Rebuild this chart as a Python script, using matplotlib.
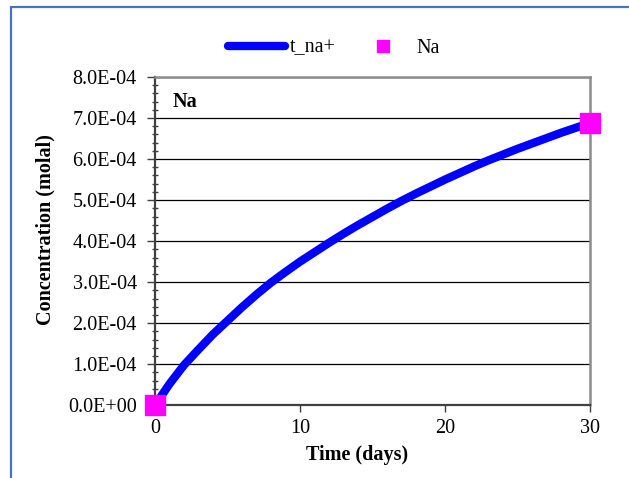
import matplotlib
matplotlib.use("Agg")
import matplotlib.pyplot as plt
from matplotlib.ticker import MultipleLocator, FuncFormatter
from matplotlib.patches import Rectangle

# Simulated Na concentration over time (molal)
days = [0, 1, 2, 3, 4, 5, 6, 7, 8, 9, 10, 11, 12, 13, 14, 15,
        16, 17, 18, 19, 20, 21, 22, 23, 24, 25, 26, 27, 28, 29, 30]
t_na = [0.0, 0.52e-4, 0.98e-4, 1.36e-4, 1.73e-4, 2.06e-4, 2.39e-4, 2.70e-4,
        2.99e-4, 3.25e-4, 3.50e-4, 3.73e-4, 3.96e-4, 4.18e-4, 4.39e-4, 4.59e-4,
        4.79e-4, 4.98e-4, 5.16e-4, 5.33e-4, 5.50e-4, 5.66e-4, 5.82e-4, 5.97e-4,
        6.11e-4, 6.25e-4, 6.38e-4, 6.51e-4, 6.64e-4, 6.76e-4, 6.88e-4]

# Measured Na
obs_days = [0, 30]
obs_na = [0.0, 6.88e-4]

plt.rcParams["font.family"] = ["Liberation Serif", "DejaVu Serif"]

fig = plt.figure(figsize=(6.29, 4.78), dpi=100)
fig.patch.set_facecolor("white")

# outer chart frame
W, H = 629, 478
fig.patches.append(Rectangle((11 / W, -0.05), 1.0, 1 - 7 / H + 0.05,
                             transform=fig.transFigure, fill=False,
                             edgecolor="#4472C4", linewidth=1.6, zorder=0))

ax = fig.add_axes([155 / W, 1 - 405.3 / H, 435 / W, 328.3 / H])

line, = ax.plot(days, t_na, color="#0000FF", lw=6.0, solid_capstyle="round",
                solid_joinstyle="round", label="t_na+", zorder=3)
pts, = ax.plot(obs_days, obs_na, ls="none", marker="s", ms=15,
               color="#FF00FF", label="Na", clip_on=False, zorder=4)

ax.set_xlim(0, 30)
ax.set_ylim(0, 8e-4)
ax.xaxis.set_major_locator(MultipleLocator(10))
ax.yaxis.set_major_locator(MultipleLocator(1e-4))
ax.yaxis.set_minor_locator(MultipleLocator(0.2e-4))
ax.yaxis.set_major_formatter(FuncFormatter(lambda v, p: f"{v:.1E}"))

ax.grid(axis="y", which="major", color="black", lw=0.9, zorder=1)

for side in ("top", "right"):
    ax.spines[side].set_color("#8C8C8C")
    ax.spines[side].set_linewidth(1.8)
for side in ("left", "bottom"):
    ax.spines[side].set_color("#404040")
    ax.spines[side].set_linewidth(1.6)

ax.tick_params(axis="y", which="major", direction="out", length=6,
               width=1.0, color="#404040", pad=7, labelsize=14.5)
ax.tick_params(axis="y", which="minor", direction="inout", length=5,
               width=1.0, color="#404040")
ax.tick_params(axis="x", which="major", direction="out", length=5,
               width=1.0, color="#404040", pad=5, labelsize=14.5)

ax.set_xlabel("Time (days)", fontsize=14.5, fontweight="bold")
ax.xaxis.set_label_coords((357 - 155) / 435, -0.12)
ax.set_ylabel("Concentration (molal)", fontsize=14.5, fontweight="bold")
ax.yaxis.set_label_coords(-0.228, 0.534)

ax.text(0.04, 0.955, "Na", transform=ax.transAxes, fontsize=14.5,
        fontweight="bold", va="top", ha="left")

ax.legend(handles=[line, pts], ncol=2, loc="center",
          bbox_to_anchor=((334 - 155) / 435, (405.3 - 48) / 328.3),
          frameon=False, fontsize=14.5, handlelength=2.85,
          handletextpad=0.25, columnspacing=0.9, markerscale=0.6,
          borderaxespad=0)

fig.savefig("out.png", dpi=100)
